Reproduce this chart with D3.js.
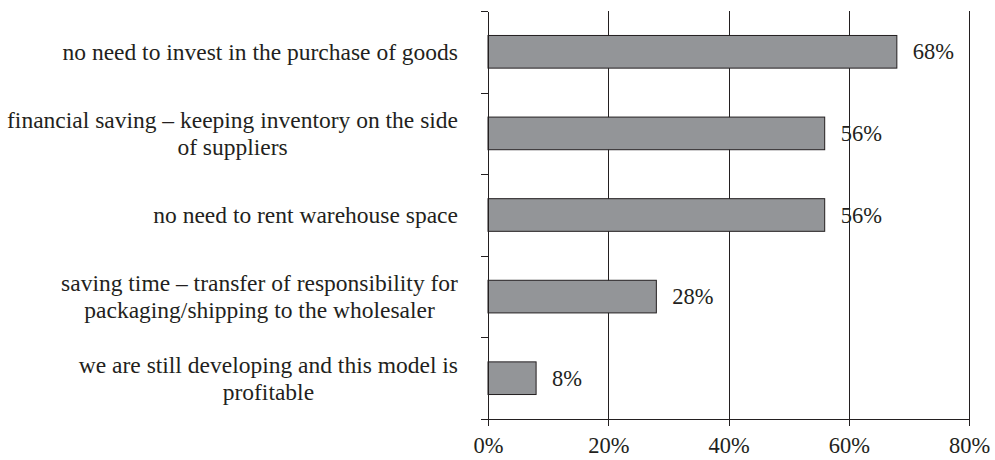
<!DOCTYPE html>
<html>
<head>
<meta charset="utf-8">
<script src="https://cdn.jsdelivr.net/npm/d3@7"></script>
<style>
  body { margin: 0; background: #fff; }
  svg text { font-family: "Liberation Serif", "Times New Roman", serif; fill: #231f20; }
  .grid line, .axis line, .axis path { stroke: #231f20; stroke-width: 1; shape-rendering: crispEdges; }
  .grid path { display: none; }
</style>
</head>
<body>
<div class="chart"></div>
<script>
var categories = [
  'no need to invest in the purchase of goods',
  'financial saving \u2013 keeping inventory on the side\nof suppliers',
  'no need to rent warehouse space',
  'saving time \u2013 transfer of responsibility for\npackaging/shipping to the wholesaler',
  'we are still developing and this model is\nprofitable'
];
var values = [68, 56, 56, 28, 8];
var xTicks = [0, 20, 40, 60, 80];

var width = 995, height = 460;
var margin = {top: 11, left: 488, right: 26, bottom: 41};

var svg = d3.select('.chart')
  .append('svg')
  .attr('width', width)
  .attr('height', height);

var w = width - margin.left - margin.right;
var h = height - margin.top - margin.bottom;

var x = d3.scaleLinear().domain([0, 80]).range([0, w]);
var y = d3.scaleBand().domain(categories).range([0, h]).paddingInner(0.6).paddingOuter(0.3);
var yEdge = d3.scaleLinear().domain([0, categories.length]).range([0, h]);

var g = svg.append('g')
  .attr('transform', 'translate(' + margin.left + ',' + margin.top + ')');

// vertical grid lines
g.append('g')
  .attr('class', 'grid')
  .call(d3.axisTop(x)
    .tickValues(xTicks.slice(1))
    .tickSize(-h)
    .tickFormat(''));

// bars
g.selectAll('.bar')
  .data(values)
  .enter()
  .append('rect')
  .attr('class', 'bar')
  .attr('x', x(0))
  .attr('y', function(d, i) { return y(categories[i]) })
  .attr('width', function(d) { return x(d) - x(0) })
  .attr('height', y.bandwidth())
  .attr('fill', '#939598')
  .attr('stroke', '#231f20')
  .attr('stroke-width', 1);

// value labels
g.selectAll('.val')
  .data(values)
  .enter()
  .append('text')
  .attr('class', 'val')
  .attr('x', function(d) { return x(d) + 16 })
  .attr('y', function(d, i) { return y(categories[i]) + y.bandwidth() / 2 + 7.5 })
  .style('font-size', '22.5px')
  .text(function(d) { return d + '%' });

// y axis with ticks between categories
g.append('g')
  .attr('class', 'axis')
  .call(d3.axisLeft(yEdge)
    .tickValues(d3.range(categories.length + 1))
    .tickSize(7)
    .tickSizeOuter(0)
    .tickFormat(''));

// x axis
var xAxis = g.append('g')
  .attr('class', 'axis')
  .attr('transform', 'translate(0,' + h + ')')
  .call(d3.axisBottom(x)
    .tickValues(xTicks)
    .tickSize(7)
    .tickSizeOuter(0)
    .tickFormat(function(d) { return d + '%' }));

xAxis.select('.domain').attr('d', 'M-7,0.5H' + w);
xAxis.selectAll('.tick text')
  .attr('y', 34)
  .attr('dy', 0)
  .attr('fill', '#231f20')
  .style('font-size', '22.5px')
  .style('font-family', '"Liberation Serif", "Times New Roman", serif');

// category labels: block right-aligned to the axis, lines centred inside it
var lineH = 26.7;
g.selectAll('.cat')
  .data(categories)
  .enter()
  .append('text')
  .attr('class', 'cat')
  .attr('text-anchor', 'middle')
  .style('font-size', '23.5px')
  .each(function(d) {
    var lines = d.split('\n');
    var cy = y(d) + y.bandwidth() / 2;
    var t = d3.select(this);
    lines.forEach(function(line, k) {
      t.append('tspan')
        .attr('x', 0)
        .attr('y', cy + 8 + (k - (lines.length - 1) / 2) * lineH)
        .text(line);
    });
    var bw = this.getBBox().width;
    t.selectAll('tspan').attr('x', -30 - bw / 2);
  });
</script>
</body>
</html>
